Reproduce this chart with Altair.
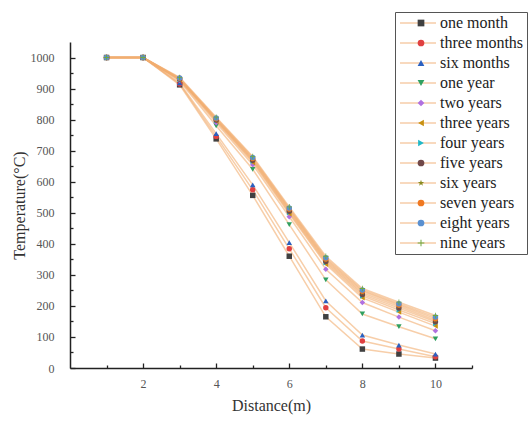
import altair as alt
import pandas as pd

distance = [1, 2, 3, 4, 5, 6, 7, 8, 9, 10]
names = ["one month", "three months", "six months", "one year", "two years",
         "three years", "four years", "five years", "six years", "seven years",
         "eight years", "nine years"]
one_month = [1000, 1000, 912, 738, 556, 360, 165, 61, 45, 32]
three_months = [1000, 1000, 915, 746, 574, 384, 194, 87, 61, 36]
six_months = [1000, 1000, 918, 755, 590, 404, 216, 106, 74, 45]
one_year = [1000, 1000, 924, 780, 640, 462, 284, 174, 133, 94]
two_years = [1000, 1000, 927, 790, 655, 487, 318, 211, 164, 120]
three_years = [1000, 1000, 929, 795, 662, 497, 334, 226, 180, 135]
four_years = [1000, 1000, 930, 797, 666, 501, 339, 232, 187, 143]
five_years = [1000, 1000, 931, 799, 669, 505, 343, 237, 193, 149]
six_years = [1000, 1000, 932, 801, 672, 509, 347, 242, 198, 154]
seven_years = [1000, 1000, 933, 803, 675, 512, 351, 247, 203, 159]
eight_years = [1000, 1000, 934, 805, 678, 515, 355, 251, 207, 164]
nine_years = [1000, 1000, 936, 808, 681, 519, 360, 256, 212, 169]

series = [one_month, three_months, six_months, one_year, two_years, three_years,
          four_years, five_years, six_years, seven_years, eight_years, nine_years]

x_major = [2, 4, 6, 8, 10]
x_minor = [1, 3, 5, 7, 9, 11]
y_major = [0, 100, 200, 300, 400, 500, 600, 700, 800, 900, 1000]
y_minor = [50, 150, 250, 350, 450, 550, 650, 750, 850, 950]

colors = ["#404040", "#e04040", "#2a60c0", "#30a060", "#b070e0", "#c89010",
          "#20b8c8", "#704848", "#8a8a20", "#f07820", "#5a90d0", "#70a840"]
STAR = ("M0,-1L0.2245,-0.309L0.9511,-0.309L0.3633,0.118L0.5878,0.809L0,0.382"
        "L-0.5878,0.809L-0.3633,0.118L-0.9511,-0.309L-0.2245,-0.309Z")
PLUS = ("M-1,-0.15L-0.15,-0.15L-0.15,-1L0.15,-1L0.15,-0.15L1,-0.15L1,0.15"
        "L0.15,0.15L0.15,1L-0.15,1L-0.15,0.15L-1,0.15Z")
shapes = ["square", "circle", "triangle-up", "triangle-down", "diamond",
          "triangle-left", "triangle-right", "circle", STAR, "circle", "circle", PLUS]
LINE_SYMBOL = "M-3,0L3,0"

rows = []
for name, vals in zip(names, series):
    for d, v in zip(distance, vals):
        rows.append({"series": name, "distance": d, "temp": v})
df = pd.DataFrame(rows)

FONT = "Liberation Serif"
TICK = "#222"
xscale = alt.Scale(domain=[0, 11], nice=False, zero=False)
yscale = alt.Scale(domain=[0, 1050], nice=False)

LX, LY = 325, -30
legend_common = dict(orient="none", legendX=LX, legendY=LY, title=None,
                     labelFont=FONT, labelFontSize=16, rowPadding=4, padding=3,
                     labelLimit=200, labelOffset=14)

lines = alt.Chart(df).mark_line(strokeWidth=1.5, opacity=0.6).encode(
    x=alt.X("distance:Q", scale=xscale,
            axis=alt.Axis(orient="bottom", values=x_major, tickSize=5, offset=-5,
                          domain=False, grid=False, tickColor=TICK, tickWidth=1.3,
                          labelFont=FONT, labelFontSize=12, labelColor="#555",
                          labelPadding=10, title="Distance(m)", titleFont=FONT,
                          titleFontSize=16, titleFontWeight="normal", titleColor="#333",
                          titlePadding=8)),
    y=alt.Y("temp:Q", scale=yscale,
            axis=alt.Axis(orient="left", values=y_major, tickSize=5,
                          offset=-5, domain=False, grid=False, tickColor=TICK,
                          tickWidth=1.3, labelFont=FONT, labelFontSize=12, format="d",
                          labelColor="#555", labelPadding=16,
                          title="Temperature(°C)", titleFont=FONT, titleFontSize=16,
                          titleFontWeight="normal", titleColor="#333", titlePadding=3)),
    color=alt.Color("series:N",
                    scale=alt.Scale(domain=names, range=["#f2ad70"] * len(names)),
                    legend=alt.Legend(symbolType=LINE_SYMBOL, symbolSize=144,
                                      symbolStrokeWidth=1.5, symbolOffset=12,
                                      labelColor="#222", strokeColor="#555",
                                      fillColor="white", **legend_common)),
)

legend_pts = alt.Legend(symbolSize=45, symbolOffset=15, labelOpacity=0,
                        labelExpr="' '", **legend_common)
points = alt.Chart(df).mark_point(filled=True, size=30, opacity=1).encode(
    x=alt.X("distance:Q", scale=xscale,
            axis=alt.Axis(orient="bottom", values=x_minor, tickSize=3,
                          offset=-3, domain=False, grid=False, labels=False,
                          tickColor=TICK, tickWidth=1.3, title=None)),
    y=alt.Y("temp:Q", scale=yscale,
            axis=alt.Axis(orient="left", values=y_minor, tickSize=3,
                          offset=-3, domain=False, grid=False, labels=False,
                          tickColor=TICK, tickWidth=1.3, title=None)),
    color=alt.Color("series:N", scale=alt.Scale(domain=names, range=colors),
                    legend=legend_pts),
    shape=alt.Shape("series:N", scale=alt.Scale(domain=names, range=shapes),
                    legend=legend_pts),
)

frame = alt.Chart(df).mark_line(opacity=0).encode(
    x=alt.X("distance:Q", scale=xscale,
            axis=alt.Axis(orient="bottom", domain=True, domainColor=TICK,
                          domainWidth=1.5, ticks=False, labels=False, grid=False,
                          title=None)),
    y=alt.Y("temp:Q", scale=yscale,
            axis=alt.Axis(orient="left", domain=True, domainColor=TICK,
                          domainWidth=1.5, ticks=False, labels=False, grid=False,
                          title=None)),
    detail="series:N",
)

chart = alt.layer(lines, points, frame).resolve_scale(
    color="independent", shape="independent"
).resolve_axis(
    x="independent", y="independent"
).properties(
    width=402, height=326,
    autosize=alt.AutoSizeParams(type="none"),
    padding={"left": 70, "top": 42, "right": 60, "bottom": 53},
    background="white",
).configure_view(stroke=None)

chart.save("out.html", embed_options={"renderer": "svg", "actions": False})
